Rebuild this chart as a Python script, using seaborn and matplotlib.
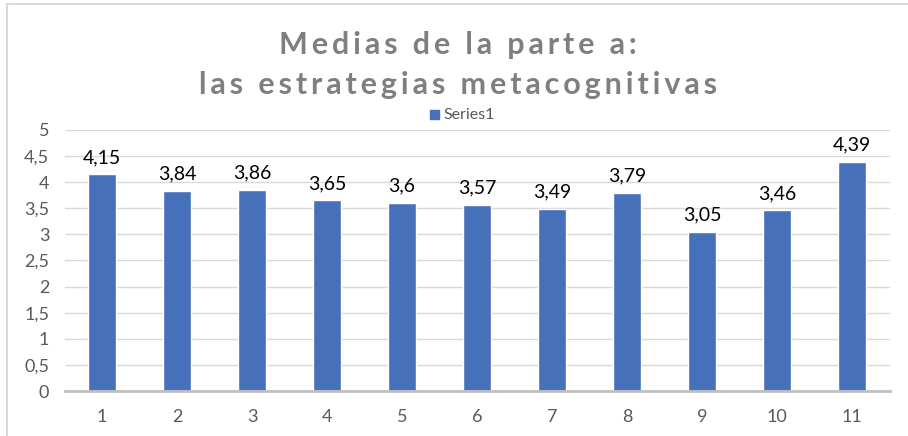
import matplotlib
matplotlib.use("Agg")
import matplotlib.pyplot as plt
from matplotlib.ticker import FuncFormatter, MultipleLocator
import pandas as pd
import seaborn as sns

# data
categories = ["1", "2", "3", "4", "5", "6", "7", "8", "9", "10", "11"]
values = [4.15, 3.84, 3.86, 3.65, 3.6, 3.57, 3.49, 3.79, 3.05, 3.46, 4.39]
series_name = "Series1"
title_lines = ["Medias de la parte a:", "las estrategias metacognitivas"]

bar_color = "#4770BB"

sns.set_theme(style="white")
plt.rcParams["font.family"] = ["Lato", "DejaVu Sans"]

df = pd.DataFrame({"cat": categories, "val": values, "serie": series_name})

fig = plt.figure(figsize=(9.08, 4.36), dpi=100)
ax = fig.add_axes([64.5 / 908, 45 / 436, 825 / 908, 261 / 436])

sns.barplot(data=df, x="cat", y="val", hue="serie", palette=[bar_color],
            width=0.38, ax=ax, legend=False, saturation=1)

ax.set_ylim(0, 5)
ax.yaxis.set_major_locator(MultipleLocator(0.5))
ax.yaxis.set_major_formatter(FuncFormatter(lambda v, p: f"{v:g}".replace(".", ",")))
ax.set_xlim(-0.5, len(categories) - 0.5)
ax.grid(axis="y", color="#d9d9d9", linewidth=1)
ax.set_axisbelow(True)
for s in ["top", "right", "left"]:
    ax.spines[s].set_visible(False)
ax.spines["bottom"].set_color("#bfbfbf")
ax.spines["bottom"].set_linewidth(2)
ax.tick_params(axis="both", length=0, labelsize=13, colors="#595959")
ax.tick_params(axis="x", pad=13)
ax.tick_params(axis="y", pad=11)
ax.set_xlabel("")
ax.set_ylabel("")

# value labels
for cont in ax.containers:
    ax.bar_label(cont, labels=[f"{v:g}".replace(".", ",") for v in values],
                 padding=6, fontsize=14, color="black")

# title with letter spacing
thin = "\u2009"
for i, line in enumerate(title_lines):
    spaced = thin.join(line)
    fig.text(458 / 908, 1 - (45 + 40 * i) / 436, spaced, ha="center", va="center",
             fontsize=22, fontweight="bold", color="#7f7f7f")

# legend
fig.patches.append(plt.Rectangle((430 / 908, 1 - 119 / 436), 9 / 908, 9 / 436,
                                 transform=fig.transFigure, color=bar_color))
fig.text(443 / 908, 1 - 115 / 436, series_name, ha="left", va="center",
         fontsize=11.5, color="#595959")

# chart border (top and left)
fig.lines.append(plt.Line2D([7 / 908, 7 / 908, 1], [0, 1 - 4 / 436, 1 - 4 / 436],
                            transform=fig.transFigure, color="#d9d9d9", linewidth=1.5))

fig.savefig("out.png", dpi=100)
